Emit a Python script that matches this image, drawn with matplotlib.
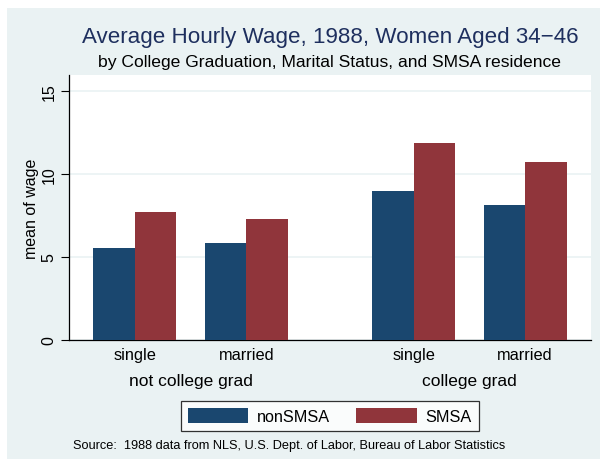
import numpy as np
import matplotlib
matplotlib.use("Agg")
import matplotlib.pyplot as plt
from matplotlib.patches import Rectangle

plt.rcParams["font.family"] = ["Liberation Sans", "DejaVu Sans"]

# data: mean hourly wage by college grad / marital status / SMSA
college = ["not college grad", "college grad"]
marital = ["single", "married"]
series = ["nonSMSA", "SMSA"]
nonsmsa = [5.55, 5.85, 8.95, 8.13]
smsa = [7.73, 7.29, 11.85, 10.72]

NAVY = "#1a476f"; MAROON = "#90353b"; BG = "#eaf2f3"

W, H = 600, 460
fig = plt.figure(figsize=(W / 100, H / 100), dpi=100)
fig.patch.set_facecolor("white")
fig.patches.append(Rectangle((7 / W, 0), 1, 1 - 9 / H, transform=fig.transFigure,
                             facecolor=BG, edgecolor="none", zorder=-10))

# plot region in pixels
x0, x1, ytop, ybot = 69, 591, 76, 341
ax = fig.add_axes([x0 / W, 1 - ybot / H, (x1 - x0) / W, (ybot - ytop) / H])
ax.set_facecolor("white")

# bar layout: width 1, 0.67 gap inside, bigger gap between outer groups
bw = 1.0
inner = 2 * bw + 0.68
outer = 2 * bw + 2.02
centers = []
for i in range(len(college)):
    for j in range(len(marital)):
        centers.append(i * (inner + outer) + j * inner)
centers = np.array(centers)
ax.bar(centers - bw / 2, nonsmsa, width=bw, color=NAVY, edgecolor="none", label=series[0], zorder=3)
ax.bar(centers + bw / 2, smsa, width=bw, color=MAROON, edgecolor="none", label=series[1], zorder=3)

ax.set_xlim(centers[0] - bw - 0.58, centers[-1] + bw + 0.58)
ax.set_ylim(0, 15.96)
ax.set_yticks([0, 5, 10, 15])
ax.set_yticklabels(["0", "5", "10", "15"], rotation=90, va="center", fontsize=11.5)
ax.yaxis.grid(True, color=BG, lw=1.2, zorder=0)
ax.tick_params(axis="y", length=6, width=0.8, pad=3)
ax.set_xticks(centers)
ax.set_xticklabels(marital * len(college), fontsize=11.8)
ax.tick_params(axis="x", length=0, pad=5)
for s in ["top", "right"]:
    ax.spines[s].set_visible(False)
for s in ["left", "bottom"]:
    ax.spines[s].set_linewidth(0.9)
ax.set_ylabel("mean of wage", fontsize=11.5, labelpad=2)

for i, name in enumerate(college):
    cx = centers[2 * i:2 * i + 2].mean()
    ax.text(cx, -0.153, name, transform=ax.get_xaxis_transform(), ha="center", va="center", fontsize=12.5)

fig.text(330 / W, 1 - 37 / H, "Average Hourly Wage, 1988, Women Aged 34\u221246",
         ha="center", va="center", fontsize=16.1, color="#1e2f5e")
fig.text(330 / W, 1 - 62 / H, "by College Graduation, Marital Status, and SMSA residence",
         ha="center", va="center", fontsize=12.6)

leg = fig.legend(loc="center", bbox_to_anchor=(330 / W, 1 - 417 / H), ncol=2, fontsize=11.7,
                 frameon=True, fancybox=False, handlelength=3.7, handleheight=1.05,
                 columnspacing=1.6, handletextpad=0.55, borderpad=0.42, borderaxespad=0)
leg.get_frame().set_edgecolor("black")
leg.get_frame().set_linewidth(0.9)

fig.text(73 / W, 1 - 446 / H, "Source:  1988 data from NLS, U.S. Dept. of Labor, Bureau of Labor Statistics",
         ha="left", va="center", fontsize=9.2)

fig.savefig("out.png", dpi=100, facecolor=fig.get_facecolor())
